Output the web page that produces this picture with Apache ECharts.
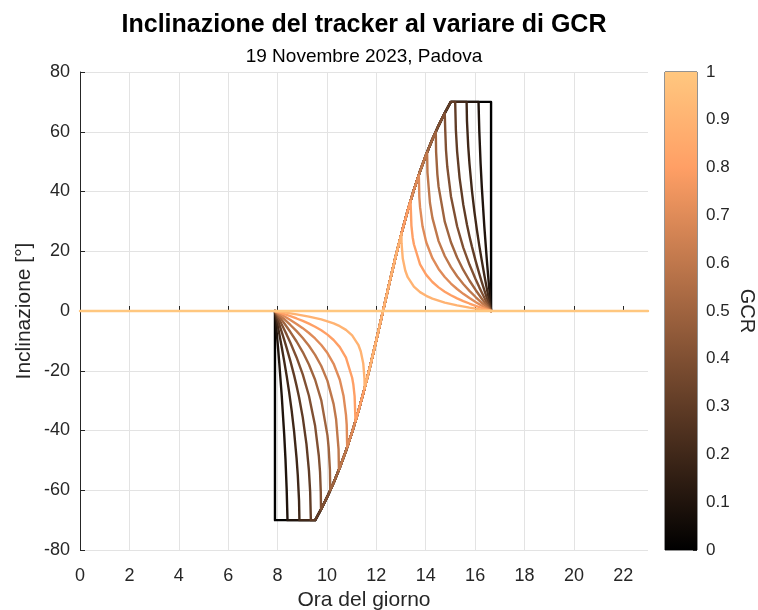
<!DOCTYPE html>
<html><head><meta charset="utf-8">
<script src="https://cdn.jsdelivr.net/npm/echarts@6/dist/echarts.min.js"></script>
<style>html,body{margin:0;padding:0;background:#fff}#c{width:758px;height:610px}</style>
</head><body><div id="c"></div>
<script>
const gcrValues = [0, 0.1, 0.2, 0.3, 0.4, 0.5, 0.6, 0.7, 0.8, 0.9, 1];
const xTicks = [0,2,4,6,8,10,12,14,16,18,20,22];

// Night: every tracker lies flat (0°) from 0 h to 23 h outside daylight
const night = [[0,0],[23,0]];

// True tracking (ideal) angle, shared by all GCR curves between backtracking periods
const ideal = [[9.525,-70],[9.77,-66.25],[10.02,-62.06],[10.27,-57.47],[10.52,-52.4],[10.77,-46.79],[11.02,-40.55],[11.27,-33.64],[11.52,-26.04],[11.77,-17.78],[12.02,-9.03],[12.27,0],[12.52,9.03],[12.77,17.78],[13.02,26.04],[13.27,33.64],[13.52,40.55],[13.77,46.79],[14.02,52.4],[14.27,57.47],[14.52,62.06],[14.77,66.25],[15.015,70]];

// Morning / afternoon backtracking segments per GCR
const am00 = [[7.895,0],[7.895,-70]];
const pm00 = [[16.645,70],[16.645,0]];
const am01 = [[7.895,0],[7.92,-3.04],[7.97,-7.61],[8.02,-12.46],[8.07,-17.49],[8.17,-28.54],[8.27,-41.54],[8.32,-49.55],[8.37,-60.0],[8.39,-66.0],[8.402,-70]];
const pm01 = [[16.138,70],[16.15,66.0],[16.17,60.0],[16.22,49.55],[16.27,41.54],[16.37,28.54],[16.47,17.49],[16.52,12.46],[16.57,7.61],[16.62,3.04],[16.645,0]];
const am02 = [[7.895,0],[7.92,-1.35],[7.97,-3.37],[8.02,-5.49],[8.07,-7.66],[8.17,-12.16],[8.27,-16.85],[8.37,-21.79],[8.47,-27.22],[8.57,-33.29],[8.67,-40.38],[8.77,-49.36],[8.82,-55.14],[8.87,-63.57],[8.885,-70]];
const pm02 = [[15.655,70],[15.67,63.57],[15.72,55.14],[15.77,49.36],[15.87,40.38],[15.97,33.29],[16.07,27.22],[16.17,21.79],[16.27,16.85],[16.37,12.16],[16.47,7.66],[16.52,5.49],[16.57,3.37],[16.62,1.35],[16.645,0]];
const am03 = [[7.895,0],[7.92,-0.79],[7.97,-1.97],[8.07,-4.46],[8.17,-7.04],[8.27,-9.69],[8.37,-12.41],[8.52,-16.79],[8.67,-21.55],[8.77,-25.06],[8.87,-28.9],[9.02,-35.6],[9.17,-44.58],[9.27,-53.42],[9.32,-60.57],[9.348,-70]];
const pm03 = [[15.192,70],[15.22,60.57],[15.27,53.42],[15.37,44.58],[15.52,35.6],[15.67,28.9],[15.77,25.06],[15.87,21.55],[16.02,16.79],[16.17,12.41],[16.27,9.69],[16.37,7.04],[16.47,4.46],[16.57,1.97],[16.62,0.79],[16.645,0]];
const am04 = [[7.895,0],[7.92,-0.51],[7.97,-1.27],[8.07,-2.86],[8.17,-4.52],[8.27,-6.2],[8.37,-7.91],[8.52,-10.64],[8.77,-15.55],[9.02,-21.24],[9.27,-28.38],[9.52,-38.44],[9.67,-48.45],[9.72,-53.9],[9.75,-60.55],[9.76,-66.42]];
const pm04 = [[14.78,66.42],[14.79,60.55],[14.82,53.9],[14.87,48.45],[15.02,38.44],[15.27,28.38],[15.52,21.24],[15.77,15.55],[16.02,10.64],[16.17,7.91],[16.27,6.2],[16.37,4.52],[16.47,2.86],[16.57,1.27],[16.62,0.51],[16.645,0]];
const am05 = [[7.895,0],[7.92,-0.34],[7.97,-0.84],[8.07,-1.91],[8.17,-3.0],[8.27,-4.12],[8.52,-7.04],[8.77,-10.21],[9.02,-13.75],[9.27,-17.91],[9.52,-23.01],[9.77,-29.9],[10.02,-41.62],[10.07,-45.82],[10.12,-53.2],[10.133,-60.0]];
const pm05 = [[14.407,60.0],[14.42,53.2],[14.47,45.82],[14.52,41.62],[14.77,29.9],[15.02,23.01],[15.27,17.91],[15.52,13.75],[15.77,10.21],[16.02,7.04],[16.27,4.12],[16.37,3.0],[16.47,1.91],[16.57,0.84],[16.62,0.34],[16.645,0]];
const am06 = [[7.895,0],[7.97,-0.56],[8.07,-1.27],[8.27,-2.75],[8.52,-4.68],[8.77,-6.75],[9.02,-9.03],[9.27,-11.63],[9.52,-14.67],[9.77,-18.41],[10.02,-23.39],[10.27,-31.16],[10.37,-36.24],[10.47,-46.35],[10.485,-53.13]];
const pm06 = [[14.055,53.13],[14.07,46.35],[14.17,36.24],[14.27,31.16],[14.52,23.39],[14.77,18.41],[15.02,14.67],[15.27,11.63],[15.52,9.03],[15.77,6.75],[16.02,4.68],[16.27,2.75],[16.47,1.27],[16.57,0.56],[16.645,0]];
const am07 = [[7.895,0],[7.97,-0.36],[8.27,-1.76],[8.52,-3.0],[8.77,-4.32],[9.02,-5.75],[9.27,-7.36],[9.52,-9.19],[9.77,-11.37],[10.02,-14.08],[10.27,-17.67],[10.52,-23.03],[10.67,-28.35],[10.77,-34.75],[10.8,-38.13],[10.82,-45.57]];
const pm07 = [[13.72,45.57],[13.74,38.13],[13.77,34.75],[13.87,28.35],[14.02,23.03],[14.27,17.67],[14.52,14.08],[14.77,11.37],[15.02,9.19],[15.27,7.36],[15.52,5.75],[15.77,4.32],[16.02,3.0],[16.27,1.76],[16.57,0.36],[16.645,0]];
const am08 = [[7.895,0],[8.07,-0.48],[8.27,-1.03],[8.52,-1.75],[8.77,-2.51],[9.02,-3.33],[9.27,-4.25],[9.52,-5.28],[9.77,-6.47],[10.02,-7.91],[10.27,-9.71],[10.52,-12.09],[10.77,-15.63],[11.02,-22.35],[11.07,-24.69],[11.12,-28.58],[11.156,-36.87]];
const pm08 = [[13.384,36.87],[13.42,28.58],[13.47,24.69],[13.52,22.35],[13.77,15.63],[14.02,12.09],[14.27,9.71],[14.52,7.91],[14.77,6.47],[15.02,5.28],[15.27,4.25],[15.52,3.33],[15.77,2.51],[16.02,1.75],[16.27,1.03],[16.47,0.48],[16.645,0]];
const am09 = [[7.895,0],[8.27,-0.46],[8.77,-1.11],[9.27,-1.88],[9.77,-2.83],[10.27,-4.17],[10.52,-5.08],[10.77,-6.32],[11.02,-8.14],[11.27,-11.31],[11.37,-13.56],[11.47,-17.56],[11.52,-22.7],[11.525,-25.84]];
const pm09 = [[13.015,25.84],[13.02,22.7],[13.07,17.56],[13.17,13.56],[13.27,11.31],[13.52,8.14],[13.77,6.32],[14.02,5.08],[14.27,4.17],[14.77,2.83],[15.27,1.88],[15.77,1.11],[16.27,0.46],[16.645,0]];
const am10 = [];
const pm10 = [];

const mornings = [am00,am01,am02,am03,am04,am05,am06,am07,am08,am09,am10];
const afternoons = [pm00,pm01,pm02,pm03,pm04,pm05,pm06,pm07,pm08,pm09,pm10];

function copper(x){
  const r = Math.min(1, 1.25*x), g = 0.7812*x, b = 0.4975*x;
  const h = v => Math.round(v*255).toString(16).padStart(2,'0');
  return '#' + h(r) + h(g) + h(b);
}

// Day part of each curve; the night part (0°) is identical for all GCR
// and is drawn by the top-most GCR = 1 curve, which stays at 0° all day.
function buildCurve(i){
  const am = mornings[i], pm = afternoons[i];
  if (!am.length) return night.slice();
  const pts = [];
  const t0 = am[am.length-1][0], t1 = pm[0][0];
  pts.push(...am);
  ideal.forEach(p => { if (p[0] > t0 && p[0] < t1) pts.push(p); });
  pts.push(...pm);
  return pts;
}

const font = 'Liberation Sans, Arial, Helvetica, sans-serif';
const ink = '#262626';
const gridCol = '#e3e3e3';

const series = gcrValues.map((g, i) => ({
  type: 'line', xAxisIndex: 0, yAxisIndex: 0,
  data: buildCurve(i), showSymbol: false, symbol: 'none',
  lineStyle: { color: copper(g), width: 2.4, join: 'round', cap: 'round' }, z: 2 + i, animation: false
}));

series.push({
  type: 'bar', xAxisIndex: 1, yAxisIndex: 1, data: [1], barWidth: '100%',
  itemStyle: { color: { type: 'linear', x: 0, y: 0, x2: 0, y2: 1, colorStops: [
    { offset: 0, color: copper(1) }, { offset: 0.2, color: copper(0.8) }, { offset: 1, color: copper(0) } ] } },
  silent: true, animation: false
});

const chart = echarts.init(document.getElementById('c'), null, { renderer: 'canvas' });
chart.setOption({
  backgroundColor: '#fff',
  animation: false,
  graphic: [
    { type: 'text', style: { text: 'Inclinazione del tracker al variare di GCR', x: 364, y: 25, textAlign: 'center', textVerticalAlign: 'middle', font: 'bold 25px ' + font, fill: '#000' } },
    { type: 'text', style: { text: '19 Novembre 2023, Padova', x: 364, y: 57, textAlign: 'center', textVerticalAlign: 'middle', font: '19px ' + font, fill: '#000' } }
  ],
  grid: [
    { left: 80, top: 72, width: 568, height: 478, containLabel: false, outerBoundsMode: 'none' },
    { left: 665, top: 72, width: 32, height: 478, show: true, borderColor: ink, borderWidth: 1, backgroundColor: 'transparent', containLabel: false, outerBoundsMode: 'none' }
  ],
  xAxis: [
    { type: 'value', gridIndex: 0, min: 0, max: 23, interval: 2,
      axisLine: { show: true, lineStyle: { color: ink, width: 1 } },
      axisTick: { show: true, inside: true, length: 5, lineStyle: { color: ink }, customValues: xTicks },
      axisLabel: { color: ink, fontSize: 18, fontFamily: font, margin: 17, customValues: xTicks },
      splitLine: { show: true, showMaxLine: false, lineStyle: { color: gridCol, width: 1 } },
      name: 'Ora del giorno', nameLocation: 'middle', nameGap: 40, nameMoveOverlap: false,
      nameTextStyle: { color: ink, fontSize: 21, fontFamily: font } },
    { type: 'category', gridIndex: 1, data: ['c'], show: false, boundaryGap: true }
  ],
  yAxis: [
    { type: 'value', gridIndex: 0, min: -80, max: 80, interval: 20,
      axisLine: { show: true, lineStyle: { color: ink, width: 1 } },
      axisTick: { show: true, inside: true, length: 5, lineStyle: { color: ink } },
      axisLabel: { color: ink, fontSize: 18, fontFamily: font, margin: 10 },
      splitLine: { show: true, lineStyle: { color: gridCol, width: 1 } },
      name: 'Inclinazione [°]', nameLocation: 'middle', nameGap: 45, nameMoveOverlap: false,
      nameTextStyle: { color: ink, fontSize: 21, fontFamily: font } },
    { type: 'value', gridIndex: 1, min: 0, max: 1, interval: 0.1, position: 'right',
      axisLine: { show: false },
      axisTick: { show: true, inside: true, length: 4, lineStyle: { color: ink } },
      axisLabel: { color: ink, fontSize: 17, fontFamily: font, margin: 9, formatter: v => String(Math.round(v*10)/10) },
      splitLine: { show: false },
      name: 'GCR', nameLocation: 'middle', nameGap: 40, nameRotate: -90, nameMoveOverlap: false,
      nameTextStyle: { color: ink, fontSize: 20, fontFamily: font } }
  ],
  series: series
});
</script></body></html>
